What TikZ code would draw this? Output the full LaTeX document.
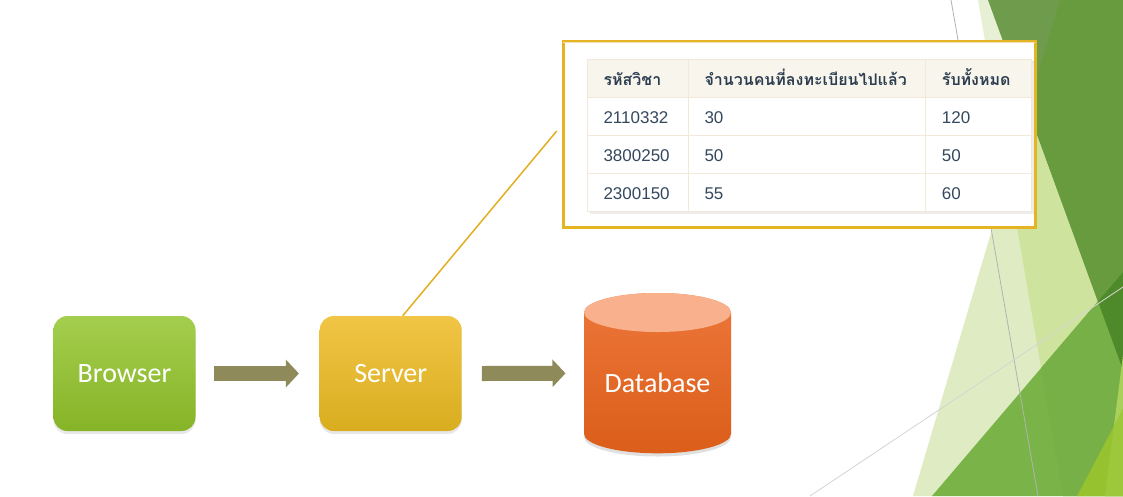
\documentclass[tikz,border=0pt]{standalone}
\usepackage{fontspec}
\setmainfont{Liberation Sans}
\newfontfamily\thaifont[Script=Thai]{Loma}
\newfontfamily\boxfont{Carlito}
\usetikzlibrary{arrows.meta,shadows,calc}
\definecolor{cPale}{HTML}{DFECC3}
\definecolor{cStrip}{HTML}{E7F0D4}
\definecolor{cPS}{HTML}{CEE39E}
\definecolor{cDA}{HTML}{6E9C4C}
\definecolor{cDB}{HTML}{689A3E}
\definecolor{cM}{HTML}{7AB449}
\definecolor{cMS}{HTML}{77B047}
\definecolor{cMD}{HTML}{4F8A2A}
\definecolor{cL}{HTML}{A9D05B}
\definecolor{cB}{HTML}{95C22E}
\definecolor{cBL}{HTML}{9DC83C}
\definecolor{brTop}{HTML}{A4CE4E}
\definecolor{brBot}{HTML}{86B427}
\definecolor{svTop}{HTML}{F1C545}
\definecolor{svBot}{HTML}{D9AD1F}
\definecolor{dbTop}{HTML}{EC763A}
\definecolor{dbBot}{HTML}{DB5E19}
\definecolor{dbCap}{HTML}{F9B08C}
\definecolor{arrowCol}{HTML}{8F8A5A}
\definecolor{gold}{HTML}{E5B422}
\definecolor{connCol}{HTML}{E0B020}
\definecolor{innerBeige}{HTML}{F6DFB8}
\definecolor{headFill}{HTML}{F8F5EC}
\definecolor{gridCol}{HTML}{F2E9DA}
\definecolor{headText}{HTML}{2C3E50}
\definecolor{cellText}{HTML}{34495E}
\begin{document}
\begin{tikzpicture}[x=1pt,y=-1pt,
  box/.style={rounded corners=14pt, minimum width=142pt, minimum height=115pt,
    inner sep=0pt, text=white, font=\boxfont\fontsize{28}{30}\selectfont,
    drop shadow={shadow xshift=0pt, shadow yshift=-3pt, opacity=0.18}},
  flowarrow/.style={line width=15pt, draw=arrowCol, -{Triangle[length=13pt,width=27pt]}},
  connector/.style={draw=connCol, line width=1.5pt},
  headcell/.style={anchor=base west, inner sep=0pt, text=headText, font=\thaifont\bfseries\fontsize{16}{18}\selectfont},
  datacell/.style={anchor=base west, inner sep=0pt, text=cellText, font=\fontsize{17}{19}\selectfont},
  thinline/.style={line width=0.8pt}
]
\useasboundingbox (0,0) rectangle (1123,496);
\fill[white] (0,0) rectangle (1123,496);

% ---- right decoration ----
\def\pP{(913,496) -- (1060,0) -- (1123,0) -- (1123,496) -- cycle}
\def\pS{(978,0) -- (1123,0) -- (1123,496) -- (1063,496) -- cycle}
\def\pD{(988,0) -- (1123,0) -- (1123,370) -- cycle}
\def\pM{(932,496) -- (1123,272) -- (1123,496) -- cycle}
\def\pL{(1123,355) -- (1105,496) -- (1123,496) -- cycle}
\def\pB{(1077,496) -- (1123,409) -- (1123,496) -- cycle}
\fill[cPale] \pP;
\fill[cStrip] \pS;
\begin{scope}\clip \pP; \fill[cPS] \pS; \end{scope}
\fill[cDA] \pD;
\begin{scope}\clip \pP; \fill[cDB] \pD; \end{scope}
\fill[cM] \pM;
\begin{scope}\clip \pS; \fill[cMS] \pM; \end{scope}
\begin{scope}\clip \pD; \fill[cMD] \pM; \end{scope}
\fill[cL] \pL;
\fill[cB] \pB;
\begin{scope}\clip \pL; \fill[cBL] \pB; \end{scope}
\draw[thinline, draw=black!30] (951,0) -- (1038,496);
\draw[thinline, draw=black!17] (810,496) -- (1123,287);

% ---- table frame ----
\node[draw=gold, line width=3pt, fill=white, minimum width=472pt, minimum height=186pt, inner sep=0pt] (frame) at (799.2,134.5) {};
\draw[innerBeige, line width=1.5pt] ([shift={(1.5pt,-2.5pt)}]frame.north west) -- ([shift={(-1.5pt,-2.5pt)}]frame.north east);

% table
\fill[black!12] (589.7,61) rectangle (1033.7,213);
\fill[black!7] (590.7,62) rectangle (1034.2,213.5);
\fill[white] (587.7,59) rectangle (1031.7,211);
\fill[headFill] (587.7,59) rectangle (1031.7,97.3);
\draw[gridCol, line width=1pt] (587.7,97.3) -- (1031.7,97.3)
  (587.7,135) -- (1031.7,135) (587.7,173) -- (1031.7,173)
  (688.3,59) -- (688.3,211) (925.7,59) -- (925.7,211);
\draw[gridCol, line width=0.8pt] (587.7,59) rectangle (1031.7,211);

\node[headcell] (h1) at (603.3,85.7) {รหัสวิชา};
\node[headcell] (h2) at (704.3,85.7) {จำนวนคนที่ลงทะเบียนไปแล้ว};
\node[headcell] (h3) at (941.7,85.7) {รับทั้งหมด};
\node[datacell] (r1a) at (603.3,123.3) {2110332};
\node[datacell] (r1b) at (704.3,123.3) {30};
\node[datacell] (r1c) at (941.7,123.3) {120};
\node[datacell] (r2a) at (603.3,161.5) {3800250};
\node[datacell] (r2b) at (704.3,161.5) {50};
\node[datacell] (r2c) at (941.7,161.5) {50};
\node[datacell] (r3a) at (603.3,199.3) {2300150};
\node[datacell] (r3b) at (704.3,199.3) {55};
\node[datacell] (r3c) at (941.7,199.3) {60};

% ---- flow ----
\node[box, top color=brTop, bottom color=brBot] (browser) at (124.5,373.5) {Browser};
\node[box, top color=svTop, bottom color=svBot] (server) at (390.7,373.5) {Server};

% database cylinder
\node[minimum width=147pt, minimum height=160pt, inner sep=0pt] (dbshape) at (657.5,373.3) {};
\fill[black, opacity=0.12] (584,316) -- (584,437) arc[start angle=180, end angle=360, x radius=73.5pt, y radius=19.5pt] -- (731,316) -- cycle;
\shade[top color=dbTop, bottom color=dbBot] (584,312.5) -- (584,433.8)
  arc[start angle=180, end angle=360, x radius=73.5pt, y radius=19.5pt]
  -- (731,312.5) arc[start angle=0, end angle=180, x radius=73.5pt, y radius=19.5pt] -- cycle;
\fill[dbCap] (657.5,312.5) ellipse[x radius=73.5pt, y radius=19.5pt];
\node[text=white, font=\boxfont\fontsize{28}{30}\selectfont, inner sep=0pt] (db) at (657.5,383) {Database};

\draw[flowarrow] ([xshift=18.5pt]browser.east) -- ([xshift=-20.6pt]server.west);
\draw[flowarrow] ([xshift=20pt]server.east) -- ([xshift=-18.3pt]dbshape.west);

\draw[connector] ([xshift=12pt]server.north) -- ([shift={(-5pt,3.5pt)}]frame.west);
\end{tikzpicture}
\end{document}
